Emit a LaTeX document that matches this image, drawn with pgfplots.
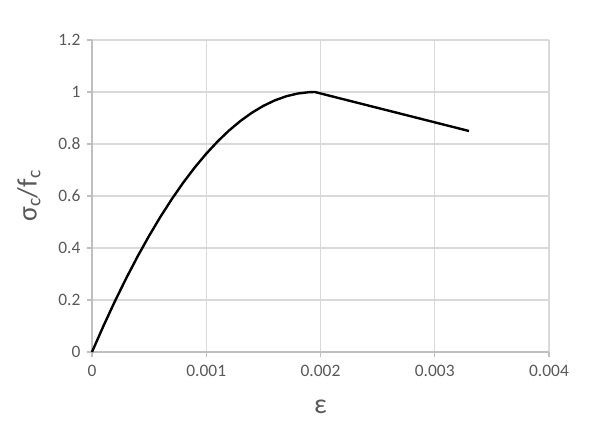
\documentclass[border=0pt]{standalone}
\usepackage{fontspec}
\setmainfont{Carlito}
\usepackage{pgfplots}
\pgfplotsset{compat=1.18}
\definecolor{gridgray}{HTML}{D9D9D9}
\definecolor{axisgray}{HTML}{BFBFBF}
\definecolor{textgray}{HTML}{595959}

\begin{document}
\begin{tikzpicture}[x=1bp,y=1bp]
  \path[use as bounding box] (-92bp,-82bp) rectangle (499bp,352bp);
  \begin{axis}[
      at={(0,0)}, anchor=south west,
      scale only axis,
      width=457bp, height=312bp,
      xmin=0, xmax=0.004, ymin=0, ymax=1.2,
      scaled x ticks=false,
      xtick={0,0.001,0.002,0.003,0.004},
      xticklabels={0,0.001,0.002,0.003,0.004},
      ytick={0,0.2,0.4,0.6,0.8,1,1.2},
      yticklabels={0,0.2,0.4,0.6,0.8,1,1.2},
      grid=major,
      major grid style={gridgray, line width=1.1pt},
      axis x line*=bottom, axis y line*=left,
      axis line style={axisgray, line width=1.1pt, -},
      tick style={axisgray, line width=1.1pt},
      tick align=outside, major tick length=5bp,
      tick label style={font=\fontsize{17.5}{20}\selectfont, text=textgray},
      xticklabel style={yshift=-5bp},
      yticklabel style={xshift=-3bp},
      xlabel={ε}, ylabel={σ\textsubscript{c}/f\textsubscript{c}},
      label style={font=\fontsize{28}{30}\selectfont, text=textgray},
      xlabel style={yshift=-16bp},
      ylabel style={yshift=11bp},
      clip=false,
    ]
    \addplot[black, line width=2.4pt, line join=round] coordinates {
      (0,0) (0.0001,0.0999) (0.0002,0.1946) (0.0003,0.2840) (0.0004,0.3682)
      (0.0005,0.4471) (0.0006,0.5207) (0.0007,0.5891) (0.0008,0.6522)
      (0.0009,0.7101) (0.0010,0.7627) (0.0011,0.8100) (0.0012,0.8521)
      (0.0013,0.8889) (0.0014,0.9204) (0.0015,0.9467) (0.0016,0.9678)
      (0.0017,0.9836) (0.0018,0.9941) (0.0019,0.9993) (0.00195,1.0)
      (0.0033,0.85)
    };
  \end{axis}
\end{tikzpicture}
\end{document}
